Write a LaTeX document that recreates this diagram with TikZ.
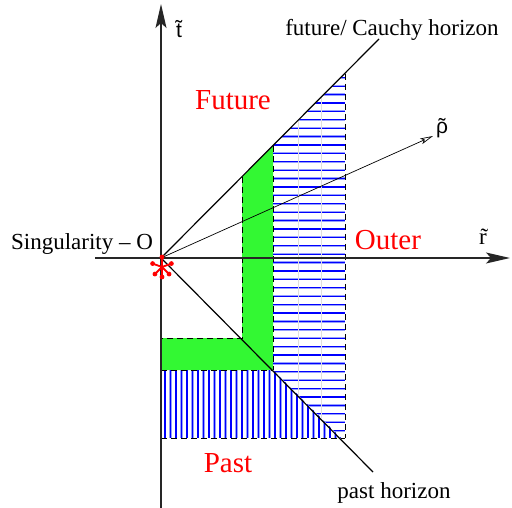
\documentclass[tikz,border=0pt]{standalone}
\usepackage{fontspec}
\setmainfont{Liberation Serif}
\newfontfamily\helv{Liberation Sans}
\usetikzlibrary{arrows.meta,calc}
\definecolor{fgreen}{RGB}{51,248,51}
\definecolor{hblue}{RGB}{0,0,255}
\definecolor{hhalo}{RGB}{150,160,255}
\begin{document}
\begin{tikzpicture}[x=1pt,y=-1pt,
  hatch/.style={hblue,line width=1.2pt},
  halo/.style={hhalo,line width=2.2pt},
  dashline/.style={black,line width=1pt,dash pattern=on 6pt off 4pt},
  horizon/.style={black,line width=1.2pt},
  axis/.style={black!85,line width=1.4pt,-{Stealth[length=24pt,width=11pt,inset=5pt]}},
  lbl/.style={font=\fontsize{23}{27}\selectfont,inner sep=0pt},
  redlbl/.style={font=\fontsize{29}{33}\selectfont,red,inner sep=0pt},
  symlbl/.style={font=\helv\fontsize{21}{25}\selectfont,inner sep=0pt}]
\useasboundingbox (0,0) rectangle (512,508);
% key points
\coordinate (O) at (161,258);
\coordinate (A) at (273,146);
\coordinate (B) at (345,74);
\coordinate (C) at (345,438);
\coordinate (D) at (341,438);
\coordinate (E) at (273,370);
\coordinate (F) at (161,370);
\coordinate (G) at (161,438);
\coordinate (H) at (242,177);
\coordinate (I) at (242,338);
\coordinate (J) at (161,338);
% green region
\fill[fgreen] (J) -- (I) -- (H) -- (A) -- (E) -- (F) -- cycle;
% horizontal hatch
\begin{scope}
\clip (A) -- (B) -- (C) -- (D) -- (E) -- cycle;
\foreach \i in {0,...,44} \draw[halo] (273,{77.8+8.4*\i}) -- (345,{77.8+8.4*\i});
\foreach \i in {0,...,44} \draw[hatch] (273,{77.8+8.4*\i}) -- (345,{77.8+8.4*\i});
\draw[gray!25,line width=0.5pt] (298,60) -- (298,440) (321,60) -- (321,440);
\end{scope}
% vertical hatch
\begin{scope}
\clip (F) -- (E) -- (D) -- (G) -- cycle;
\foreach \i in {0,...,33} \draw[halo] ({165+5.5*\i},370) -- ({165+5.5*\i},438);
\foreach \i in {0,...,33} \draw[hatch] ({165+5.5*\i},370) -- ({165+5.5*\i},438);
\end{scope}
% dashed boundaries
\draw[dashline] (H) -- (I) -- (J);
\draw[dashline] (F) -- (E);
\draw[dashline] (A) -- (E);
\draw[dashline] (B) -- (C);
\draw[dashline] (G) -- (C);
% horizons
\coordinate (fh) at (379,39);
\coordinate (ph) at (373,472);
\draw[horizon] (O) -- (fh);
\draw[horizon] (O) -- (ph);
% rho line
\coordinate (rho) at (433,136);
\draw[black,line width=0.7pt,-{Stealth[open,length=13pt,width=6pt,inset=3pt]}] (O) -- (rho);
% axes
\coordinate (tbot) at (161,508);
\coordinate (ttip) at (161,4);
\coordinate (rl) at (95,258);
\coordinate (rtip) at (510,258);
\draw[axis] (tbot) -- (ttip);
\draw[axis] (rl) -- (rtip);
% singularity asterisk
\coordinate (S) at (162,267);
\foreach \a in {90,160,20,225,315,270} {
  \draw[red,line width=1.8pt,line cap=round] (S) -- ++({10*cos(\a)},{-10*sin(\a)});
  \fill[red] ($(S)+({10*cos(\a)},{-10*sin(\a)})$) circle (2.4pt);
}
% labels
\node[lbl,anchor=base] (lfch) at (392,36) {future/ Cauchy horizon};
\node[lbl,anchor=base] (lph) at (394,498) {past horizon};
\node[lbl,anchor=base] (lsing) at (82,250) {Singularity -- O};
\node[redlbl,anchor=base] (lfut) at (233,110) {Future};
\node[redlbl,anchor=base] (lout) at (388,250) {Outer};
\node[redlbl,anchor=base] (lpast) at (228,472) {Past};
\node[symlbl,anchor=base] (lt) at (179,38) {\~{t}};
\node[lbl,anchor=base] (lr) at (483,245) {\~{r}};
\node[symlbl,anchor=base] (lrho) at (442,134) {\ooalign{ρ\cr\hidewidth ˜\hidewidth\cr}};
\end{tikzpicture}
\end{document}
